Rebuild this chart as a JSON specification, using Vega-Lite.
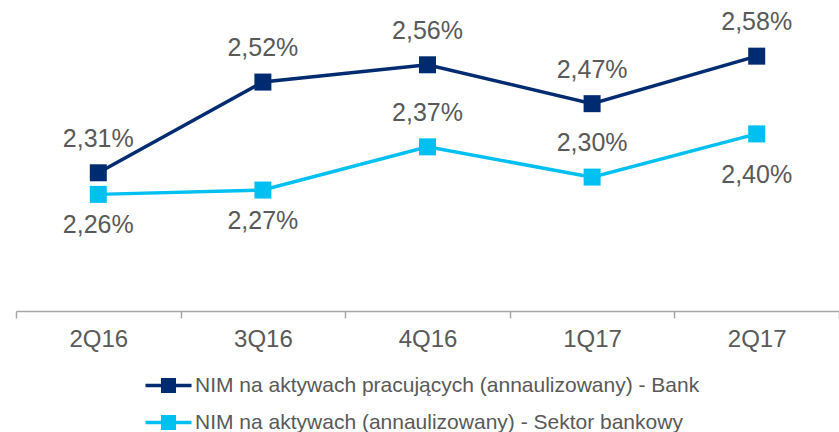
{
  "$schema": "https://vega.github.io/schema/vega-lite/v6.json",
  "width": 823,
  "height": 311,
  "autosize": "none",
  "padding": {"left": 16, "top": 0, "right": 0, "bottom": 121},
  "background": "white",
  "data": {
    "values": [
      {"q": "2Q16", "grp": "Bank", "series": "NIM na aktywach pracujących (annaulizowany) - Bank", "value": 2.31},
      {"q": "3Q16", "grp": "Bank", "series": "NIM na aktywach pracujących (annaulizowany) - Bank", "value": 2.52},
      {"q": "4Q16", "grp": "Bank", "series": "NIM na aktywach pracujących (annaulizowany) - Bank", "value": 2.56},
      {"q": "1Q17", "grp": "Bank", "series": "NIM na aktywach pracujących (annaulizowany) - Bank", "value": 2.47},
      {"q": "2Q17", "grp": "Bank", "series": "NIM na aktywach pracujących (annaulizowany) - Bank", "value": 2.58},
      {"q": "2Q16", "grp": "Sektor", "series": "NIM na aktywach  (annaulizowany) - Sektor bankowy", "value": 2.26},
      {"q": "3Q16", "grp": "Sektor", "series": "NIM na aktywach  (annaulizowany) - Sektor bankowy", "value": 2.27},
      {"q": "4Q16", "grp": "Sektor", "series": "NIM na aktywach  (annaulizowany) - Sektor bankowy", "value": 2.37},
      {"q": "1Q17", "grp": "Sektor", "series": "NIM na aktywach  (annaulizowany) - Sektor bankowy", "value": 2.30},
      {"q": "2Q17", "grp": "Sektor", "series": "NIM na aktywach  (annaulizowany) - Sektor bankowy", "value": 2.40}
    ]
  },
  "transform": [
    {"calculate": "replace(format(datum.value, '.2f'), '.', ',') + '%'", "as": "label"}
  ],
  "encoding": {
    "x": {
      "field": "q",
      "type": "nominal",
      "sort": ["2Q16", "3Q16", "4Q16", "1Q17", "2Q17"],
      "scale": {"type": "band", "paddingInner": 0, "paddingOuter": 0},
      "axis": {
        "title": null,
        "labelAngle": 0,
        "domainColor": "#A6A6A6",
        "domainWidth": 1.5,
        "tickColor": "#A6A6A6",
        "tickWidth": 1.5,
        "tickSize": 7,
        "tickBand": "extent",
        "labelFont": "Liberation Sans",
        "labelFontSize": 24,
        "labelColor": "#595959",
        "labelPadding": 9,
        "grid": false
      }
    },
    "y": {
      "field": "value",
      "type": "quantitative",
      "scale": {"domain": [1.99, 2.71], "zero": false, "nice": false},
      "axis": null
    },
    "color": {
      "field": "series",
      "type": "nominal",
      "sort": ["NIM na aktywach pracujących (annaulizowany) - Bank", "NIM na aktywach  (annaulizowany) - Sektor bankowy"],
      "scale": {
        "domain": ["NIM na aktywach pracujących (annaulizowany) - Bank", "NIM na aktywach  (annaulizowany) - Sektor bankowy"],
        "range": ["#002B70", "#00C0F2"]
      },
      "legend": {
        "title": null,
        "orient": "none",
        "legendX": 142,
        "legendY": 375,
        "direction": "vertical",
        "padding": 0,
        "symbolType": "M-3.07,0H3.07M-0.77,-0.77H0.77V0.77H-0.77Z",
        "symbolSize": 225,
        "symbolStrokeWidth": 3.5,
        "labelFont": "Liberation Sans",
        "labelFontSize": 21,
        "labelColor": "#595959",
        "labelOffset": 16,
        "labelLimit": 700,
        "rowPadding": 10,
        "encode": {
          "symbols": {
            "update": {
              "fill": {"scale": "color", "field": "value"},
              "stroke": {"scale": "color", "field": "value"},
              "size": {"value": 225},
              "strokeWidth": {"value": 3.5},
              "opacity": {"value": 1}
            }
          }
        }
      }
    }
  },
  "layer": [
    {"mark": {"type": "line", "strokeWidth": 3.5}},
    {"mark": {"type": "point", "shape": "square", "filled": true, "size": 289, "opacity": 1}},
    {
      "transform": [{"filter": "datum.grp == 'Bank' || datum.q == '4Q16' || datum.q == '1Q17'"}],
      "mark": {"type": "text", "font": "Liberation Sans", "fontSize": 25, "baseline": "middle", "dy": -34},
      "encoding": {"text": {"field": "label"}, "color": {"value": "#595959"}}
    },
    {
      "transform": [{"filter": "datum.grp == 'Sektor' && (datum.q == '2Q16' || datum.q == '3Q16')"}],
      "mark": {"type": "text", "font": "Liberation Sans", "fontSize": 25, "baseline": "middle", "dy": 31},
      "encoding": {"text": {"field": "label"}, "color": {"value": "#595959"}}
    },
    {
      "transform": [{"filter": "datum.grp == 'Sektor' && datum.q == '2Q17'"}],
      "mark": {"type": "text", "font": "Liberation Sans", "fontSize": 25, "baseline": "middle", "dy": 41},
      "encoding": {"text": {"field": "label"}, "color": {"value": "#595959"}}
    }
  ],
  "config": {"view": {"stroke": null}}
}
